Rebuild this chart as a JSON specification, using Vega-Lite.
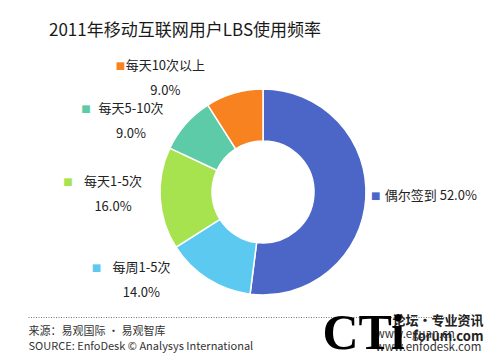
{
  "$schema": "https://vega.github.io/schema/vega-lite/v6.json",
  "width": 474,
  "height": 336,
  "autosize": {"type": "none"},
  "padding": {"left": 26, "top": 24, "right": 0, "bottom": 0},
  "background": "white",
  "title": {
    "text": "2011年移动互联网用户LBS使用频率",
    "anchor": "start",
    "frame": "group",
    "orient": "top",
    "baseline": "alphabetic",
    "offset": -32,
    "dx": 23,
    "font": "Noto Sans CJK SC",
    "fontSize": 17,
    "fontWeight": "normal",
    "color": "#1a1a1a"
  },
  "config": {"view": {"stroke": null}},
  "data": {
    "values": [
      {"category": "偶尔签到", "share": 0.52, "order": 1},
      {"category": "每周1-5次", "share": 0.14, "order": 2},
      {"category": "每天1-5次", "share": 0.16, "order": 3},
      {"category": "每天5-10次", "share": 0.09, "order": 4},
      {"category": "每天10次以上", "share": 0.09, "order": 5}
    ]
  },
  "resolve": {
    "scale": {"x": "independent", "y": "independent", "theta": "independent"},
    "axis": {"x": "independent", "y": "independent"}
  },
  "layer": [
    {
      "mark": {"type": "arc", "outerRadius": 103, "innerRadius": 51, "stroke": "white", "strokeWidth": 1.5},
      "encoding": {
        "theta": {"field": "share", "type": "quantitative", "stack": true, "scale": {"domain": [0, 1]}},
        "order": {"field": "order", "type": "quantitative"},
        "color": {
          "field": "category", "type": "nominal",
          "scale": {
            "domain": ["偶尔签到", "每周1-5次", "每天1-5次", "每天5-10次", "每天10次以上"],
            "range": ["#4b66c7", "#5cc9f0", "#a7e24f", "#5dcaa8", "#f7821f"]
          },
          "legend": null
        }
      }
    },
    {
      "mark": {"type": "text", "radius": 150, "dy": -12, "align": "center", "baseline": "middle", "font": "Noto Sans CJK SC", "fontSize": 13, "color": "#222"},
      "encoding": {
        "theta": {"field": "share", "type": "quantitative", "stack": true, "scale": {"domain": [0, 1], "range": [1.681, 5.758]}},
        "order": {"field": "order", "type": "quantitative"},
        "text": {"condition": {"test": "datum.category === '偶尔签到'", "value": ""}, "field": "category", "type": "nominal"}
      }
    },
    {
      "mark": {"type": "text", "radius": 150, "dy": 13, "align": "center", "baseline": "middle", "font": "Noto Sans CJK SC", "fontSize": 13, "color": "#222"},
      "encoding": {
        "theta": {"field": "share", "type": "quantitative", "stack": true, "scale": {"domain": [0, 1], "range": [1.681, 5.758]}},
        "order": {"field": "order", "type": "quantitative"},
        "text": {"condition": {"test": "datum.category === '偶尔签到'", "value": ""}, "field": "share", "type": "quantitative", "format": ".1%"}
      }
    },
    {
      "mark": {"type": "text", "radius": 150, "dx": -45, "dy": -12, "align": "center", "baseline": "middle", "font": "DejaVu Sans", "fontSize": 10},
      "encoding": {
        "theta": {"field": "share", "type": "quantitative", "stack": true, "scale": {"domain": [0, 1], "range": [1.681, 5.758]}},
        "order": {"field": "order", "type": "quantitative"},
        "color": {"field": "category", "type": "nominal", "legend": null},
        "text": {"condition": {"test": "datum.category === '偶尔签到'", "value": ""}, "value": "■"}
      }
    },
    {
      "transform": [{"calculate": "datum.category + '  ' + format(datum.share, '.1%')", "as": "rightLabel"}],
      "mark": {"type": "text", "radius": 122, "dy": -4, "align": "left", "baseline": "middle", "font": "Noto Sans CJK SC", "fontSize": 13, "color": "#222"},
      "encoding": {
        "theta": {"field": "share", "type": "quantitative", "stack": true, "scale": {"domain": [0, 1]}},
        "order": {"field": "order", "type": "quantitative"},
        "text": {"condition": {"test": "datum.category !== '偶尔签到'", "value": ""}, "field": "rightLabel", "type": "nominal"}
      }
    },
    {
      "mark": {"type": "text", "radius": 122, "dx": -9, "dy": -4, "align": "center", "baseline": "middle", "font": "DejaVu Sans", "fontSize": 10},
      "encoding": {
        "theta": {"field": "share", "type": "quantitative", "stack": true, "scale": {"domain": [0, 1]}},
        "order": {"field": "order", "type": "quantitative"},
        "color": {"field": "category", "type": "nominal", "legend": null},
        "text": {"condition": {"test": "datum.category !== '偶尔签到'", "value": ""}, "value": "■"}
      }
    },
    {
      "data": {"values": [{"u": 0}, {"u": 1}]},
      "mark": {"type": "point", "opacity": 0},
      "encoding": {
        "x": {
          "field": "u", "type": "quantitative",
          "scale": {"domain": [0, 1], "range": [2, 444], "nice": false, "zero": false},
          "axis": {
            "orient": "bottom", "offset": -43, "domain": true, "domainDash": [1, 1.5], "domainColor": "#777", "domainWidth": 1,
            "ticks": false, "labels": false, "grid": false,
            "title": ["来源：易观国际 · 易观智库", "SOURCE: EnfoDesk © Analysys International"],
            "titleAnchor": "start", "titleAlign": "left", "titleBaseline": "top", "titlePadding": 8,
            "titleFont": "Noto Sans CJK SC", "titleFontSize": 11, "titleFontWeight": "normal", "titleColor": "#333", "titleLineHeight": 15
          }
        },
        "y": {
          "field": "u", "type": "quantitative",
          "scale": {"domain": [0, 1]},
          "axis": {
            "orient": "right", "domain": false, "ticks": false, "labels": false, "grid": false,
            "title": ["www.eguan.cn", "www.enfodesk.com"],
            "titleAngle": 0, "titleAlign": "left", "titleBaseline": "alphabetic", "titleX": -125, "titleY": 313,
            "titleFont": "Noto Sans CJK SC", "titleFontSize": 11.5, "titleFontWeight": "normal", "titleColor": "#333", "titleLineHeight": 13
          }
        }
      }
    },
    {
      "data": {"values": [{"u": 0}]},
      "mark": {"type": "point", "opacity": 0},
      "encoding": {
        "x": {
          "field": "u", "type": "quantitative",
          "axis": {
            "orient": "top", "domain": false, "ticks": false, "labels": false, "grid": false,
            "title": ["论坛·专业资讯", "forum.com"],
            "titleAngle": 0, "titleAlign": "right", "titleBaseline": "alphabetic", "titleX": 457, "titleY": 300,
            "titleFont": "Noto Sans CJK SC", "titleFontSize": 13, "titleFontWeight": "bold", "titleColor": "#222", "titleLineHeight": 16
          }
        },
        "y": {
          "field": "u", "type": "quantitative",
          "axis": {
            "orient": "left", "domain": false, "ticks": false, "labels": false, "grid": false,
            "title": "CTi",
            "titleAngle": 0, "titleAlign": "left", "titleBaseline": "alphabetic", "titleX": 296, "titleY": 324,
            "titleFont": "Liberation Serif", "titleFontSize": 50, "titleFontWeight": "bold", "titleColor": "#000"
          }
        }
      }
    }
  ]
}
